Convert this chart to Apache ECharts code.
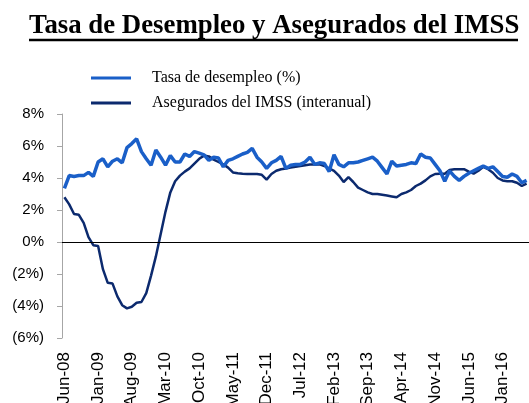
<!DOCTYPE html>
<html>
<head>
<meta charset="utf-8">
<script src="https://cdn.jsdelivr.net/npm/echarts@6/dist/echarts.min.js"></script>
<style>
  html, body { margin: 0; padding: 0; background: #fff; }
  #chart { width: 529px; height: 403px; }
</style>
</head>
<body>
<div id="chart"></div>
<script>
// meses de jun-08 a jun-16
var monthNames = ['Jan','Feb','Mar','Apr','May','Jun','Jul','Aug','Sep','Oct','Nov','Dec'];
var categories = [];
for (var k = 0; k < 97; k++) {
  var m = (5 + k) % 12;
  var yr = 8 + Math.floor((5 + k) / 12);
  categories.push(monthNames[m] + '-' + (yr < 10 ? '0' + yr : yr));
}

// Tasa de desempleo (%)
var tasaDesempleo = [
  3.35, 4.15, 4.1, 4.15, 4.15, 4.35, 4.1, 5.0, 5.2, 4.7,
  5.05, 5.2, 4.95, 5.9, 6.15, 6.45, 5.65, 5.2, 4.8, 5.75,
  5.3, 4.8, 5.4, 5.0, 5.0, 5.5, 5.35, 5.65, 5.55, 5.45,
  5.1, 5.3, 5.25, 4.7, 5.1, 5.2, 5.35, 5.5, 5.6, 5.85,
  5.3, 5.0, 4.6, 4.95, 5.1, 5.35, 4.6, 4.8, 4.85, 4.85,
  5.0, 5.3, 4.85, 4.95, 4.9, 4.4, 5.45, 4.85, 4.7, 4.95,
  4.95, 5.0, 5.1, 5.2, 5.3, 5.05, 4.65, 4.25, 5.05, 4.75,
  4.8, 4.85, 4.95, 4.9, 5.5, 5.3, 5.25, 4.85, 4.45, 3.8,
  4.45, 4.1, 3.85, 4.1, 4.3, 4.45, 4.6, 4.75, 4.6, 4.7,
  4.4, 4.1, 4.05, 4.25, 4.1, 3.7, 3.85
];

// Asegurados del IMSS, variacion interanual (%)
var asegurados = [
  2.8, 2.35, 1.75, 1.7, 1.2, 0.3, -0.2, -0.25, -1.7, -2.55,
  -2.6, -3.4, -3.95, -4.15, -4.05, -3.8, -3.75, -3.2, -2.1, -0.9,
  0.5, 1.9, 3.1, 3.8, 4.15, 4.4, 4.6, 4.9, 5.2, 5.4,
  5.35, 5.15, 5.0, 4.85, 4.65, 4.35, 4.3, 4.27, 4.25, 4.25,
  4.25, 4.2, 3.9, 4.25, 4.45, 4.55, 4.6, 4.65, 4.7, 4.75,
  4.8, 4.85, 4.85, 4.85, 4.75, 4.6, 4.45, 4.15, 3.75, 4.05,
  3.75, 3.4, 3.25, 3.1, 3.0, 3.0, 2.95, 2.9, 2.85, 2.8,
  3.0, 3.1, 3.25, 3.5, 3.65, 3.85, 4.1, 4.25, 4.27, 4.27,
  4.5, 4.55, 4.55, 4.55, 4.4, 4.27, 4.45, 4.7, 4.55, 4.33,
  4.0, 3.85, 3.8, 3.8, 3.7, 3.5, 3.65
];

var yTicks = { min: -6, max: 8, step: 2 };

var chart = echarts.init(document.getElementById('chart'));

var sans = 'Liberation Sans';
var serif = 'Liberation Serif';

var option = {
  animation: false,
  title: {
    text: 'Tasa de Desempleo y Asegurados del IMSS',
    left: 24,
    top: 8,
    textStyle: { fontFamily: serif, fontWeight: 'bold', fontSize: 26.8, color: '#000' }
  },
  graphic: [{
    type: 'line',
    shape: { x1: 29, y1: 40, x2: 518, y2: 40 },
    style: { stroke: '#000', lineWidth: 2.5 }
  }],
  legend: {
    orient: 'vertical',
    left: 91,
    top: 70,
    padding: 0,
    itemWidth: 40,
    itemHeight: 3,
    itemGap: 9,
    icon: 'rect',
    textStyle: { fontFamily: serif, fontSize: 16, color: '#000', lineHeight: 16, padding: [0, 0, 0, 16] },
    data: ['Tasa de desempleo (%)', 'Asegurados del IMSS (interanual)']
  },
  grid: { left: 62, right: 0, top: 114, bottom: 65, outerBoundsMode: 'none' },
  xAxis: {
    type: 'category',
    data: categories,
    boundaryGap: true,
    axisLine: { show: false },
    axisTick: { show: false },
    axisLabel: {
      interval: 6,
      rotate: 90,
      margin: 14,
      padding: [8, 0, 0, 0],
      fontFamily: sans,
      fontSize: 17,
      color: '#000'
    }
  },
  yAxis: {
    type: 'value',
    min: yTicks.min,
    max: yTicks.max,
    interval: yTicks.step,
    axisLine: { show: true, lineStyle: { color: '#a6a6a6' } },
    axisTick: { show: true, length: 5, lineStyle: { color: '#a6a6a6' } },
    splitLine: { show: false },
    axisLabel: {
      margin: 18,
      fontFamily: sans,
      fontSize: 15,
      color: '#000',
      formatter: function (v) { return v < 0 ? '(' + Math.abs(v) + '%)' : v + '%'; }
    }
  },
  series: [
    {
      name: 'Tasa de desempleo (%)',
      type: 'line',
      data: tasaDesempleo,
      symbol: 'none',
      color: '#1a5fc8',
      lineStyle: { width: 3.5, color: '#1a5fc8' },
      z: 3
    },
    {
      name: 'Asegurados del IMSS (interanual)',
      type: 'line',
      data: asegurados,
      symbol: 'none',
      color: '#0c2a6e',
      lineStyle: { width: 2.5, color: '#0c2a6e' },
      z: 2,
      markLine: {
        silent: true,
        symbol: 'none',
        label: { show: false },
        lineStyle: { color: '#000', width: 1, type: 'solid' },
        data: [{ yAxis: 0 }]
      }
    }
  ]
};

chart.setOption(option);
</script>
</body>
</html>
